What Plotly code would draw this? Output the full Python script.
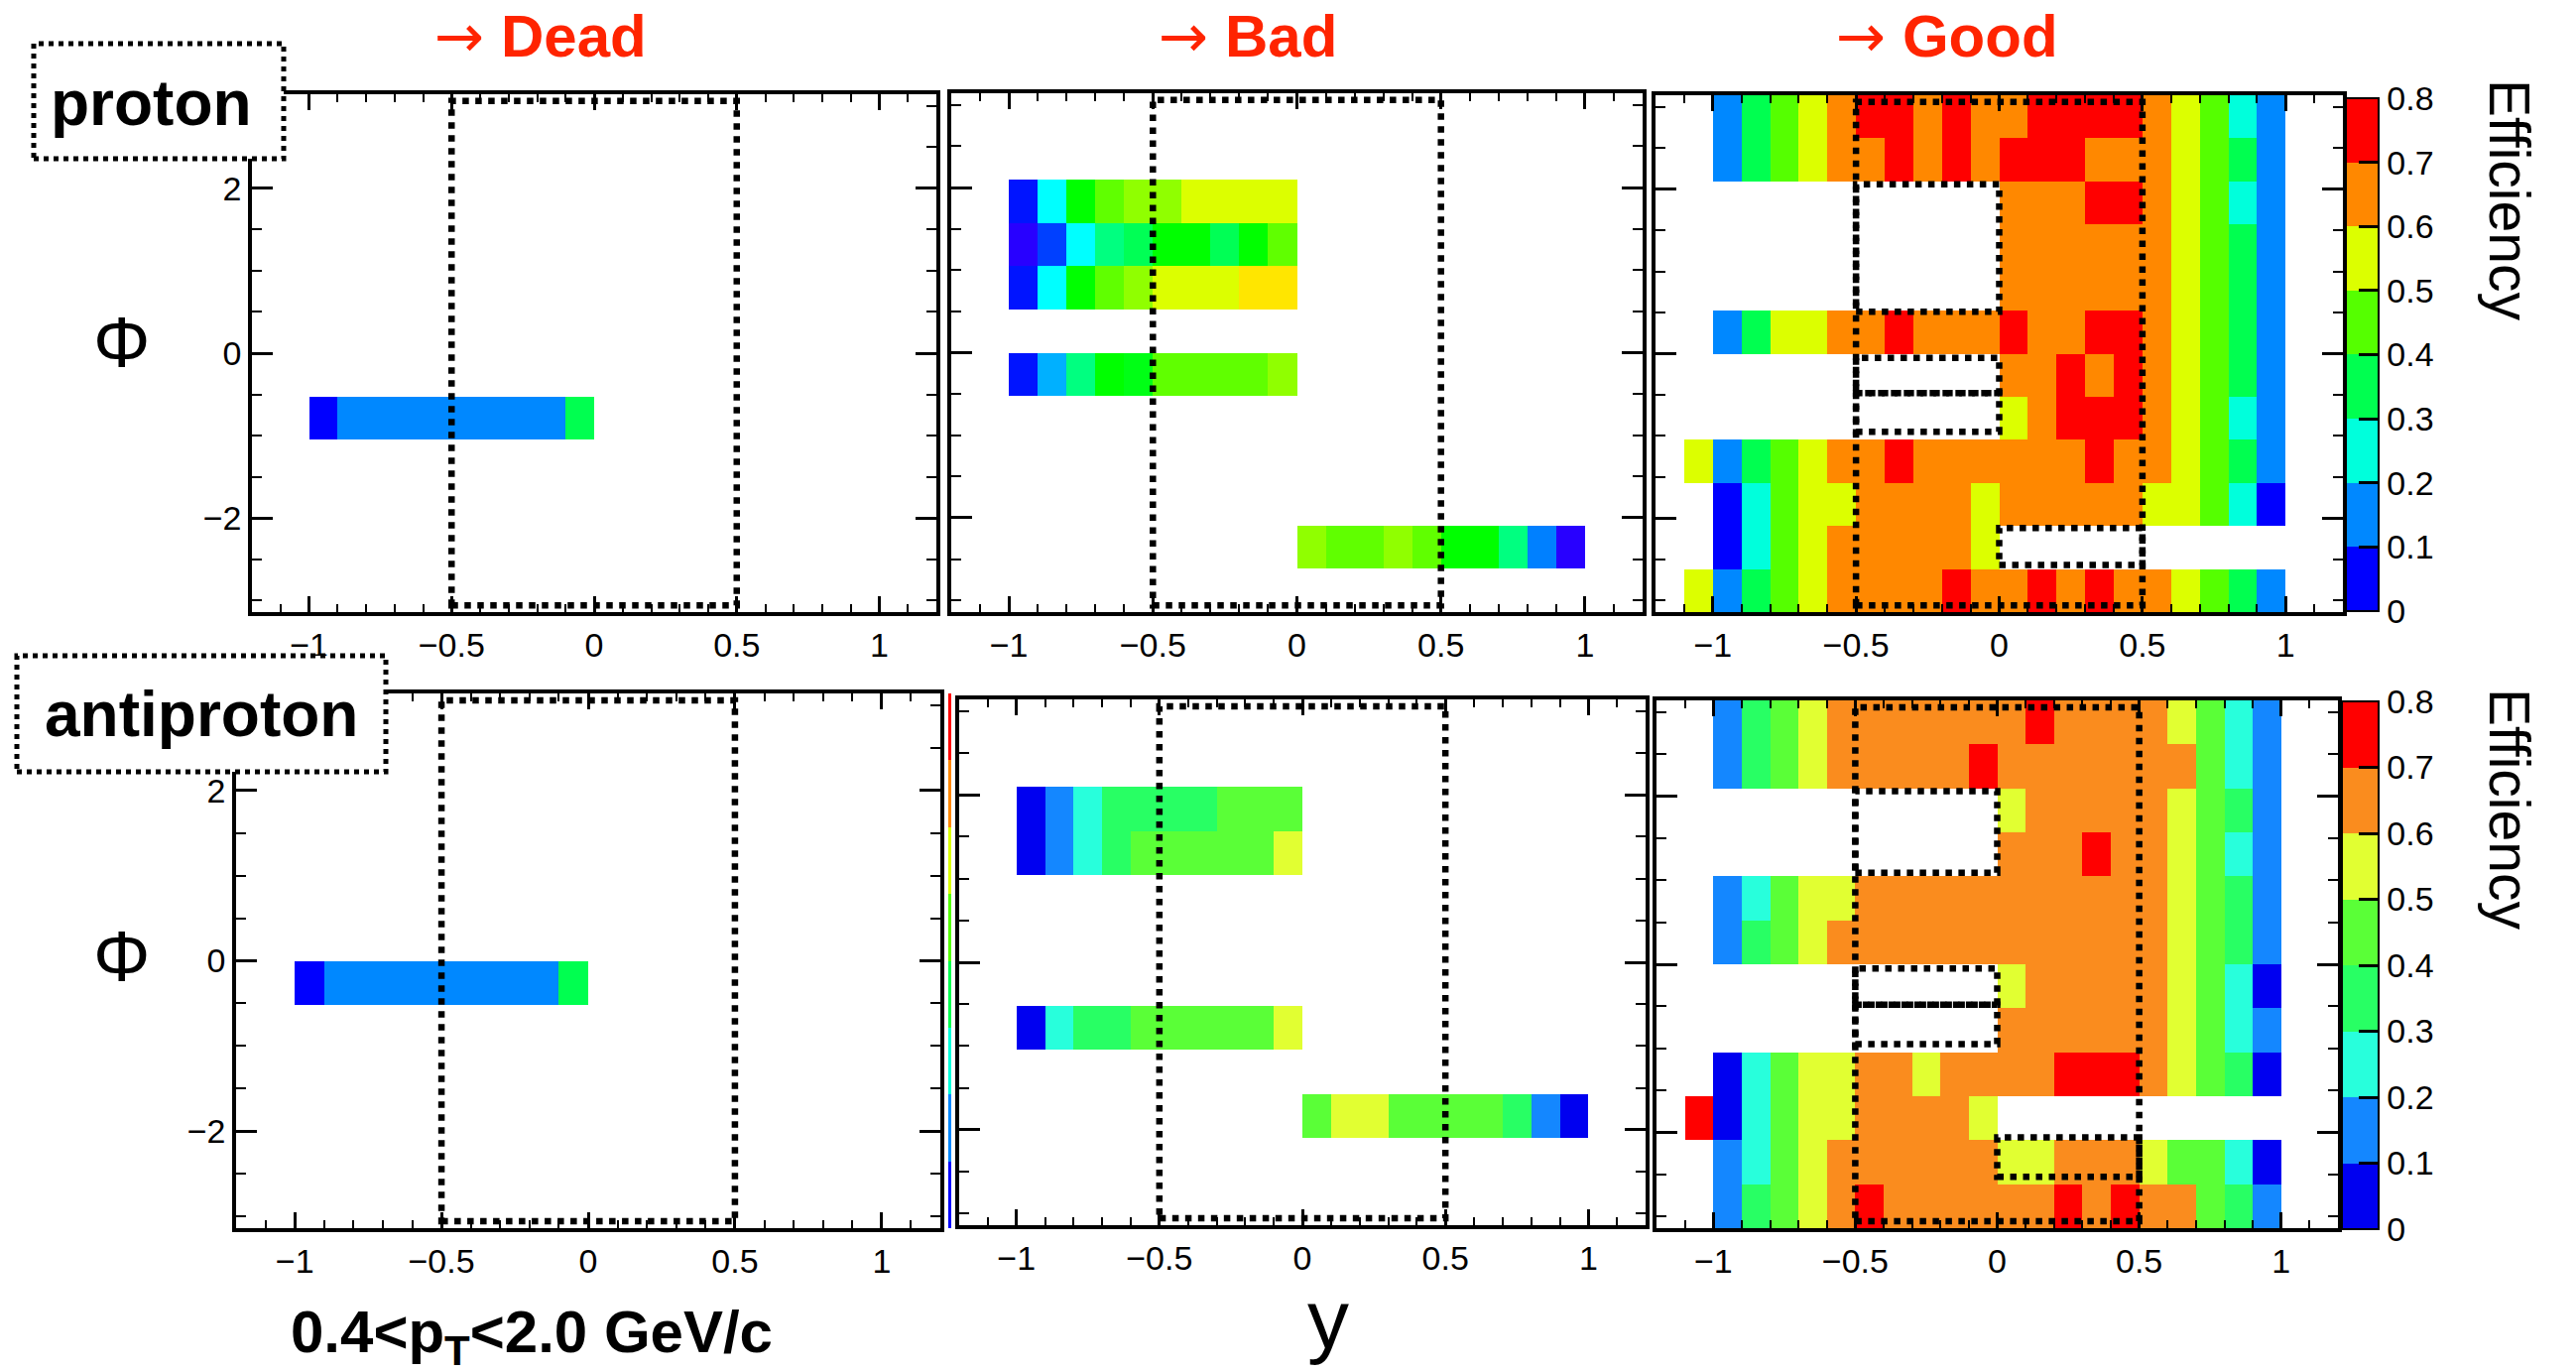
import numpy as np
import plotly.graph_objects as go

W, H = 2597, 1383
N = None
# efficiency value of each colour class
B, A, C, G, L, Y, O, R = 0.05, 0.15, 0.25, 0.35, 0.45, 0.55, 0.65, 0.75

# binning: 24 bins in y (-1.2..1.2), 12 bins in phi (-pi..pi)
X_EDGES = [round(-1.2 + 0.1 * i, 2) for i in range(25)]
PHI_EDGES = list(np.linspace(-np.pi, np.pi, 13))
E = [N] * 24

# rows listed from top (phi ~ +pi) to bottom (phi ~ -pi)
proton_dead = [E, E, E, E, E, E, E,
               [N, N, B, A, A, A, A, A, A, A, A, G] + [N] * 12,
               E, E, E, E]

proton_bad = [E, E,
              [N, N, 0.06, 0.28, 0.40, 0.46, 0.52, 0.52, 0.60, 0.60, 0.60, 0.60] + [N] * 12,
              [N, N, 0.02, 0.12, 0.28, 0.34, 0.36, 0.40, 0.40, 0.36, 0.40, 0.46] + [N] * 12,
              [N, N, 0.06, 0.28, 0.40, 0.46, 0.52, 0.60, 0.60, 0.60, 0.68, 0.68] + [N] * 12,
              E,
              [N, N, 0.06, 0.22, 0.34, 0.40, 0.39, 0.46, 0.46, 0.46, 0.46, 0.52] + [N] * 12,
              E, E, E,
              [N] * 12 + [0.52, 0.46, 0.46, 0.52, 0.46, 0.40, 0.40, 0.34, 0.18, 0.02, N, N],
              E]

proton_good = [
    [N, N, A, G, L, Y, O, R, R, O, R, O, O, R, R, R, R, O, Y, L, C, A, N, N],
    [N, N, A, G, L, Y, O, O, R, O, R, O, R, R, R, O, O, O, Y, L, G, A, N, N],
    [N] * 12 + [O, O, O, R, R, O, Y, L, C, A, N, N],
    [N] * 12 + [O, O, O, O, O, O, Y, L, G, A, N, N],
    [N] * 12 + [O, O, O, O, O, O, Y, L, G, A, N, N],
    [N, N, A, G, Y, Y, O, O, R, O, O, O, R, O, O, R, R, O, Y, L, G, A, N, N],
    [N] * 12 + [O, O, R, O, R, O, Y, L, G, A, N, N],
    [N] * 12 + [Y, O, R, R, R, O, Y, L, C, A, N, N],
    [N, Y, A, G, L, Y, O, O, R, O, O, O, O, O, O, R, O, O, Y, L, G, A, N, N],
    [N, N, B, C, L, Y, Y, O, O, O, O, Y, O, O, O, O, O, Y, Y, L, C, B, N, N],
    [N, N, B, C, L, Y, O, O, O, O, O, Y] + [N] * 12,
    [N, Y, A, G, L, Y, O, O, O, O, R, O, O, R, O, R, O, O, Y, L, G, A, N, N],
]

antiproton_dead = [E, E, E, E, E, E,
                   [N, N, B, A, A, A, A, A, A, A, A, G] + [N] * 12,
                   E, E, E, E, E]

antiproton_bad = [E, E,
                  [N, N, B, A, C, G, G, G, G, L, L, L] + [N] * 12,
                  [N, N, B, A, C, G, L, L, L, L, L, Y] + [N] * 12,
                  E, E, E,
                  [N, N, B, C, G, G, L, L, L, L, L, Y] + [N] * 12,
                  E,
                  [N] * 12 + [L, Y, Y, L, L, L, L, G, A, B, N, N],
                  E, E]

antiproton_good = [
    [N, N, A, G, L, Y, O, O, O, O, O, O, O, R, O, O, O, O, Y, L, C, A, N, N],
    [N, N, A, G, L, Y, O, O, O, O, O, R, O, O, O, O, O, O, O, L, C, A, N, N],
    [N] * 12 + [Y, O, O, O, O, O, Y, L, G, A, N, N],
    [N] * 12 + [O, O, O, R, O, O, Y, L, C, A, N, N],
    [N, N, A, C, L, Y, Y, O, O, O, O, O, O, O, O, O, O, O, Y, L, G, A, N, N],
    [N, N, A, G, L, Y, O, O, O, O, O, O, O, O, O, O, O, O, Y, L, G, A, N, N],
    [N] * 12 + [Y, O, O, O, O, O, Y, L, C, B, N, N],
    [N] * 12 + [O, O, O, O, O, O, Y, L, C, A, N, N],
    [N, N, B, C, L, Y, Y, O, O, Y, O, O, O, O, R, R, R, O, Y, L, G, B, N, N],
    [N, R, B, C, L, Y, Y, O, O, O, O, Y] + [N] * 12,
    [N, N, A, C, L, Y, O, O, O, O, O, O, Y, Y, O, O, O, Y, L, L, C, B, N, N],
    [N, N, A, G, L, Y, O, R, O, O, O, O, O, O, R, O, R, O, O, L, G, A, N, N],
]

# dotted acceptance boxes (y0, y1, phi0, phi1)
OUTER_BOX = (-0.5, 0.5, -3.06, 3.06)
proton_holes = [(-0.5, 0.0, 0.51, 2.06), (-0.5, 0.0, -0.48, -0.05),
                (-0.5, 0.0, -0.95, -0.48), (0.0, 0.5, -2.57, -2.12)]
antiproton_holes = [(-0.5, 0.0, 1.09, 2.06), (-0.5, 0.0, -0.48, -0.05),
                    (-0.5, 0.0, -0.95, -0.48), (0.0, 0.5, -2.53, -2.06)]

CB_TICKS = [0, 0.1, 0.2, 0.3, 0.4, 0.5, 0.6, 0.7, 0.8]
CB_TEXT = ['0', '0.1', '0.2', '0.3', '0.4', '0.5', '0.6', '0.7', '0.8']


def steps(cols):
    n = len(cols)
    cs = []
    for i, c in enumerate(cols):
        cs.append([i / n, c])
        cs.append([(i + 1) / n, c])
    return cs


PAL_P = ['#0000ff', '#0088ff', '#00ffdc', '#00ff50', '#55ff00', '#dcff00', '#ff8800', '#ff0000']
PAL_A = ['#0000f0', '#1487ff', '#28ffdc', '#28ff64', '#5aff37', '#e1ff32', '#fa8c1e', '#ff0000']
CS_P = steps(PAL_P)
CS_A = steps(PAL_A)
CS_CONT = [[0.0, 'rgb(48,0,255)'], [0.025, 'rgb(40,0,255)'], [0.075, 'rgb(0,20,255)'],
           [0.15, 'rgb(0,64,255)'], [0.225, 'rgb(0,128,255)'], [0.275, 'rgb(0,176,255)'],
           [0.35, 'rgb(0,255,255)'], [0.425, 'rgb(0,255,128)'], [0.5, 'rgb(0,255,0)'],
           [0.575, 'rgb(96,255,0)'], [0.65, 'rgb(144,255,0)'], [0.75, 'rgb(220,255,0)'],
           [0.85, 'rgb(255,230,0)'], [1.0, 'rgb(255,0,0)']]

FONT = 'Liberation Sans, Arial, Helvetica, sans-serif'

# panel pixel boxes: (x_left, x_right), (y_top, y_bottom)
panel_px = {
    1: ((254, 944), (95, 617)),
    2: ((959, 1656), (94, 617)),
    3: ((1669, 2362), (96, 617)),
    4: ((238, 948), (699, 1238)),
    5: ((967, 1659), (705, 1235)),
    6: ((1670, 2357), (706, 1238)),
}

panels = {
    1: (proton_dead, CS_P, None),
    2: (proton_bad, CS_CONT, None),
    3: (proton_good, CS_P, 'big_p'),
    4: (antiproton_dead, CS_P, 'thin'),
    5: (antiproton_bad, CS_A, None),
    6: (antiproton_good, CS_A, 'big_a'),
}


def colorbar(kind):
    if kind == 'thin':
        return dict(x=956 / W, xanchor='left', y=1 - 699 / H, yanchor='top',
                    len=539, lenmode='pixels', thickness=3, thicknessmode='pixels',
                    xpad=0, ypad=0, outlinewidth=0, showticklabels=False, ticks='')
    if kind == 'big_p':
        x0, top, ln, th = 2365, 99, 517, 33
    else:
        x0, top, ln, th = 2361, 707, 532, 37
    return dict(x=x0 / W, xanchor='left', y=1 - top / H, yanchor='top',
                len=ln, lenmode='pixels', thickness=th, thicknessmode='pixels',
                xpad=0, ypad=0, outlinewidth=2, outlinecolor='black',
                tickvals=CB_TICKS, ticktext=CB_TEXT, ticks='inside', ticklen=21,
                tickwidth=3, tickcolor='black',
                tickfont=dict(family=FONT, size=34, color='black'))


fig = go.Figure()
layout_axes = {}
shapes = []
for k, (rows, cs, cb) in panels.items():
    sfx = '' if k == 1 else str(k)
    tr = go.Heatmap(x=X_EDGES, y=PHI_EDGES, z=rows[::-1], zmin=0, zmax=0.8,
                    colorscale=cs, showscale=cb is not None, hoverinfo='skip',
                    xaxis='x' + sfx, yaxis='y' + sfx)
    if cb is not None:
        tr.colorbar = colorbar(cb)
    fig.add_trace(tr)
    (xl, xr), (yt, yb) = panel_px[k]
    layout_axes['xaxis' + sfx] = dict(
        domain=[xl / W, xr / W], anchor='y' + sfx, range=[-1.2, 1.2],
        tick0=0, dtick=0.5, ticks='inside', ticklen=16, tickwidth=2.5, tickcolor='black',
        minor=dict(dtick=0.1, tick0=0, ticks='inside', ticklen=8, tickwidth=2, tickcolor='black'),
        showline=True, linewidth=3.5, linecolor='black', mirror='allticks',
        showgrid=False, zeroline=False,
        tickfont=dict(family=FONT, size=34, color='black'))
    layout_axes['yaxis' + sfx] = dict(
        domain=[1 - yb / H, 1 - yt / H], anchor='x' + sfx, range=[-np.pi, np.pi],
        tick0=0, dtick=2, ticks='inside', ticklen=21, tickwidth=2.5, tickcolor='black',
        minor=dict(dtick=0.5, tick0=0, ticks='inside', ticklen=10, tickwidth=2, tickcolor='black'),
        showline=True, linewidth=3.5, linecolor='black', mirror='allticks',
        showgrid=False, zeroline=False, showticklabels=(k in (1, 4)),
        tickfont=dict(family=FONT, size=34, color='black'))
    boxes = [OUTER_BOX]
    if k == 3:
        boxes = boxes + proton_holes
    if k == 6:
        boxes = boxes + antiproton_holes
    for (x0, x1, y0, y1) in boxes:
        shapes.append(dict(type='rect', xref='x' + sfx, yref='y' + sfx,
                           x0=x0, x1=x1, y0=y0, y1=y1, layer='above',
                           line=dict(color='black', width=6.5, dash='dot')))

# particle label boxes (paper, pixels)
for (x0, x1, y0, y1) in [(34, 286, 44, 160), (17, 389, 661, 778)]:
    shapes.append(dict(type='rect', xref='paper', yref='paper',
                       x0=x0 / W, x1=x1 / W, y0=1 - y1 / H, y1=1 - y0 / H,
                       layer='above', fillcolor='white',
                       line=dict(color='black', width=5, dash='dot')))

RED = '#ff2400'
ARROW = '<span style="font-family:DejaVu Sans;font-weight:normal">→</span> '


def ann(text, x, y, size, color='black', bold=False, angle=0, xanchor='center'):
    return dict(text=text, x=x / W, y=1 - y / H, xref='paper', yref='paper',
                xanchor=xanchor, yanchor='middle', showarrow=False, textangle=angle,
                font=dict(family=FONT, size=size, color=color,
                          weight='bold' if bold else 'normal'))


annotations = [
    ann(ARROW + 'Dead', 545, 36, 60, RED, True),
    ann(ARROW + 'Bad', 1258, 36, 60, RED, True),
    ann(ARROW + 'Good', 1963, 36, 60, RED, True),
    ann('proton', 152, 104, 64, bold=True),
    ann('antiproton', 203, 720, 64, bold=True),
    ann('Φ', 122, 345, 72),
    ann('Φ', 122, 964, 72),
    ann('y', 1339, 1330, 84),
    ann('0.4&lt;p<sub>T</sub>&lt;2.0 GeV/c', 536, 1347, 60, bold=True),
    ann('Efficiency', 2530, 201, 57, angle=90),
    ann('Efficiency', 2530, 815, 57, angle=90),
]

fig.update_layout(width=W, height=H, margin=dict(l=0, r=0, t=0, b=0, autoexpand=False),
                  paper_bgcolor='white', plot_bgcolor='white', showlegend=False,
                  shapes=shapes, annotations=annotations, **layout_axes)
fig.write_html('out.html')
